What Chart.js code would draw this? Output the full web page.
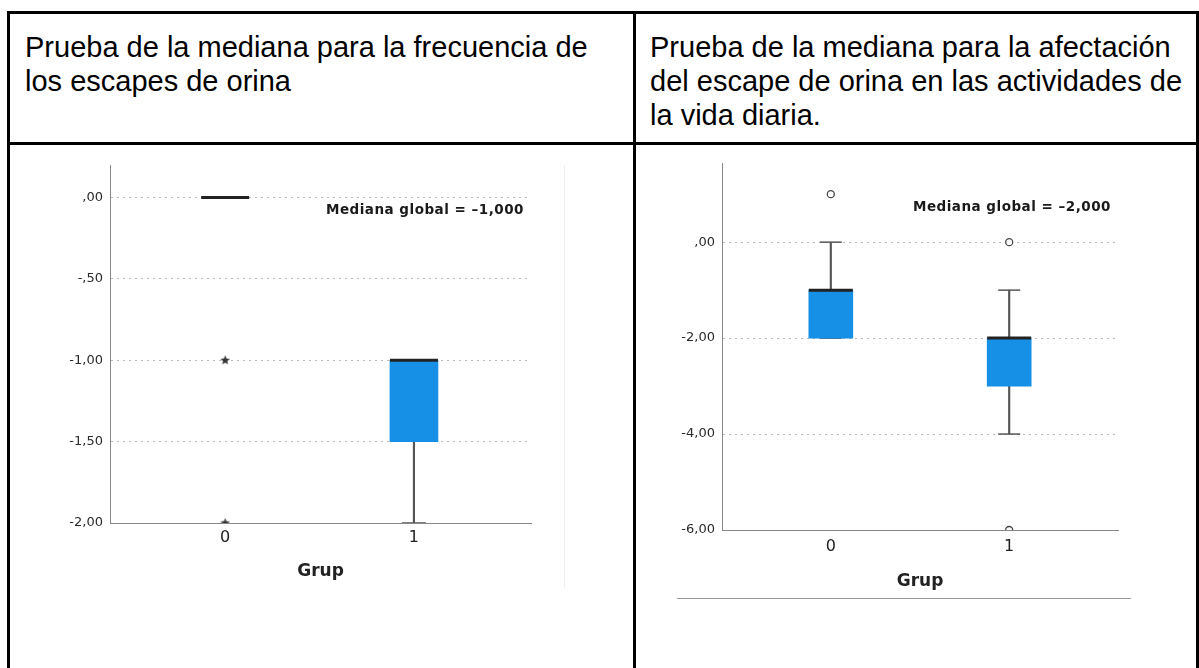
<!DOCTYPE html>
<html>
<head>
<meta charset="utf-8">
<script src="https://cdn.jsdelivr.net/npm/chart.js@4.4.1/dist/chart.umd.min.js"></script>
<style>
  html, body { margin: 0; padding: 0; background: #fff; }
  body { width: 1199px; height: 668px; position: relative; overflow: hidden; font-family: "Liberation Sans", Arial, sans-serif; }
  .hl { position: absolute; background: #000; height: 3px; }
  .vl { position: absolute; background: #000; width: 3px; }
  .title { position: absolute; font-size: 29px; line-height: 34px; color: #000; white-space: nowrap; }
  .wrap { position: absolute; }
</style>
</head>
<body>
<div class="hl" style="left:7px;top:11px;width:1192px"></div>
<div class="hl" style="left:7px;top:142px;width:1192px"></div>
<div class="vl" style="left:7px;top:11px;height:657px"></div>
<div class="vl" style="left:633px;top:11px;height:657px"></div>
<div class="vl" style="left:1196px;top:11px;height:657px"></div>

<div class="title" style="left:25px;top:30px">Prueba de la mediana para la frecuencia de<br>los escapes de orina</div>
<div class="title" style="left:650px;top:30px">Prueba de la mediana para la afectación<br>del escape de orina en las actividades de<br>la vida diaria.</div>

<div style="position:absolute;left:564px;top:165px;width:1px;height:423px;background:#eee"></div>
<div style="position:absolute;left:677px;top:598px;width:454px;height:1px;background:#999"></div>

<div class="wrap" style="left:20px;top:150px;width:560px;height:450px"><canvas id="c1"></canvas></div>
<div class="wrap" style="left:640px;top:150px;width:540px;height:450px"><canvas id="c2"></canvas></div>

<script>
const groups = [0, 1];

// frecuencia de los escapes de orina
const freqQ1 = [null, -1.5];
const freqQ3 = [null, -1];
const freqMedian = [0, -1];
const freqMin = [0, -2];
const freqMax = [0, -1];
const freqOutGroup = [0, 0];
const freqOutValue = [-1, -2];
const freqTicks = [-2, -1.5, -1, -0.5, 0];
const freqGlobal = -1;

// afectación en las actividades de la vida diaria
const afecQ1 = [-2, -3];
const afecQ3 = [-1, -2];
const afecMedian = [-1, -2];
const afecMin = [-2, -4];
const afecMax = [0, -1];
const afecOutGroup = [0, 1, 1];
const afecOutValue = [1, 0, -6];
const afecTicks = [-6, -4, -2, 0];
const afecGlobal = -2;

const BLUE = "#1590e6";

function fmt(v, d) {
  const s = Math.abs(v).toFixed(d).replace(".", ",").replace(/^0,/, ",");
  return (v < 0 ? "-" : "") + s;
}

// five point star used for extreme values
function makeStar() {
  const c = document.createElement("canvas");
  c.width = 11; c.height = 11;
  const x = c.getContext("2d");
  x.fillStyle = "#333";
  x.beginPath();
  for (let i = 0; i < 10; i++) {
    const r = i % 2 ? 2.2 : 5;
    const a = -Math.PI / 2 + i * Math.PI / 5;
    x.lineTo(5.5 + r * Math.cos(a), 5.5 + r * Math.sin(a));
  }
  x.closePath();
  x.fill();
  return c;
}
const star = makeStar();

const globalLabel = {
  id: "globalLabel",
  afterDraw(chart, args, opts) {
    const { ctx, chartArea } = chart;
    ctx.save();
    ctx.font = 'bold 13.5px "DejaVu Sans"';
    ctx.letterSpacing = "0.5px";
    ctx.fillStyle = "#1a1a1a";
    ctx.textAlign = "right";
    ctx.textBaseline = "middle";
    ctx.fillText(opts.text, chartArea.right - 7, chartArea.top + opts.dy);
    ctx.restore();
  },
};

function boxChart(id, d) {
  const boxes = [];
  groups.forEach((g, i) => {
    if (d.q1[i] !== null) boxes.push({ x: g, y: [d.q1[i], d.q3[i]] });
  });
  const whiskers = groups.map((g, i) => ({ x: g, y: [d.min[i], d.max[i]] }));
  const caps = [];
  groups.forEach((g, i) => {
    caps.push({ x: g, y: d.min[i] });
    caps.push({ x: g, y: d.max[i] });
  });
  const medians = groups.map((g, i) => ({ x: g, y: d.median[i] }));
  const outliers = d.outGroup.map((g, i) => ({ x: g, y: d.outValue[i] }));

  const globalText = "Mediana global = " + fmt(d.global, 3).replace("-", "\u2013");

  return new Chart(document.getElementById(id), {
    type: "bar",
    data: {
      datasets: [
        {
          type: "scatter",
          data: outliers,
          pointStyle: d.outStyle,
          pointRadius: d.outStyle === "circle" ? 3.5 : 5,
          pointBackgroundColor: "#fff",
          pointBorderColor: "#444",
          pointBorderWidth: 1.3,
          clip: 0,
        },
        {
          type: "scatter",
          data: medians,
          pointStyle: "line",
          pointRadius: d.boxWidth / 2,
          pointBorderColor: "#222",
          pointBorderWidth: 3,
        },
        {
          data: boxes,
          backgroundColor: BLUE,
          barThickness: d.boxWidth,
          grouped: false,
          borderWidth: 0,
        },
        {
          type: "scatter",
          data: caps,
          pointStyle: "line",
          pointRadius: d.capWidth / 2,
          pointBorderColor: "#555",
          pointBorderWidth: 1.5,
        },
        {
          data: whiskers,
          backgroundColor: "#555",
          barThickness: 1.5,
          grouped: false,
          borderWidth: 0,
        },
      ],
    },
    options: {
      responsive: true,
      maintainAspectRatio: false,
      animation: false,
      events: [],
      layout: {
        autoPadding: false,
        padding: { top: d.padTop, right: d.padRight, left: 0, bottom: 0 },
      },
      plugins: {
        legend: { display: false },
        tooltip: { enabled: false },
        globalLabel: { text: globalText, dy: d.labelDy },
      },
      scales: {
        x: {
          type: "linear",
          offset: false,
          min: d.xMin,
          max: d.xMax,
          afterBuildTicks: (s) => { s.ticks = groups.map((v) => ({ value: v })); },
          afterFit: (s) => { s.height = d.xHeight; s.paddingLeft = 0; s.paddingRight = 0; },
          grid: { display: false, drawTicks: false },
          border: { display: true, color: "#888", width: 1 },
          ticks: {
            color: "#222",
            padding: d.xTickPad,
            font: { family: "DejaVu Sans", size: 16 },
            callback: (v) => String(v),
          },
          title: {
            display: true,
            text: "Grup",
            color: "#222",
            font: { family: "DejaVu Sans", size: 17, weight: "bold" },
            padding: { top: 0, bottom: d.titlePad },
          },
        },
        y: {
          min: d.yMin,
          max: d.yMax,
          afterBuildTicks: (s) => { s.ticks = d.ticks.map((v) => ({ value: v })); },
          afterFit: (s) => { s.width = d.yWidth; s.paddingTop = 0; s.paddingBottom = 0; },
          grid: { color: "#bbb", lineWidth: 1, drawTicks: false },
          border: { display: true, color: "#888", width: 1, dash: [2, 4] },
          ticks: {
            color: "#2a2a2a",
            padding: 7,
            font: { family: "DejaVu Sans", size: 13 },
            callback: (v) => fmt(v, 2),
          },
        },
      },
    },
    plugins: [globalLabel],
  });
}

boxChart("c1", {
  q1: freqQ1, q3: freqQ3, median: freqMedian, min: freqMin, max: freqMax,
  outGroup: freqOutGroup, outValue: freqOutValue, outStyle: star,
  ticks: freqTicks, global: freqGlobal,
  yMin: -2, yMax: 0.2, xMin: -0.61, xMax: 1.62,
  boxWidth: 48, capWidth: 24,
  padTop: 15, padRight: 49, yWidth: 90, xHeight: 77,
  xTickPad: 5, titlePad: 18, labelDy: 45,
});

boxChart("c2", {
  q1: afecQ1, q3: afecQ3, median: afecMedian, min: afecMin, max: afecMax,
  outGroup: afecOutGroup, outValue: afecOutValue, outStyle: "circle",
  ticks: afecTicks, global: afecGlobal,
  yMin: -6, yMax: 1.65, xMin: -0.61, xMax: 1.61,
  boxWidth: 44, capWidth: 22,
  padTop: 13, padRight: 62, yWidth: 82, xHeight: 70,
  xTickPad: 7, titlePad: 8, labelDy: 44,
});
</script>
</body>
</html>
